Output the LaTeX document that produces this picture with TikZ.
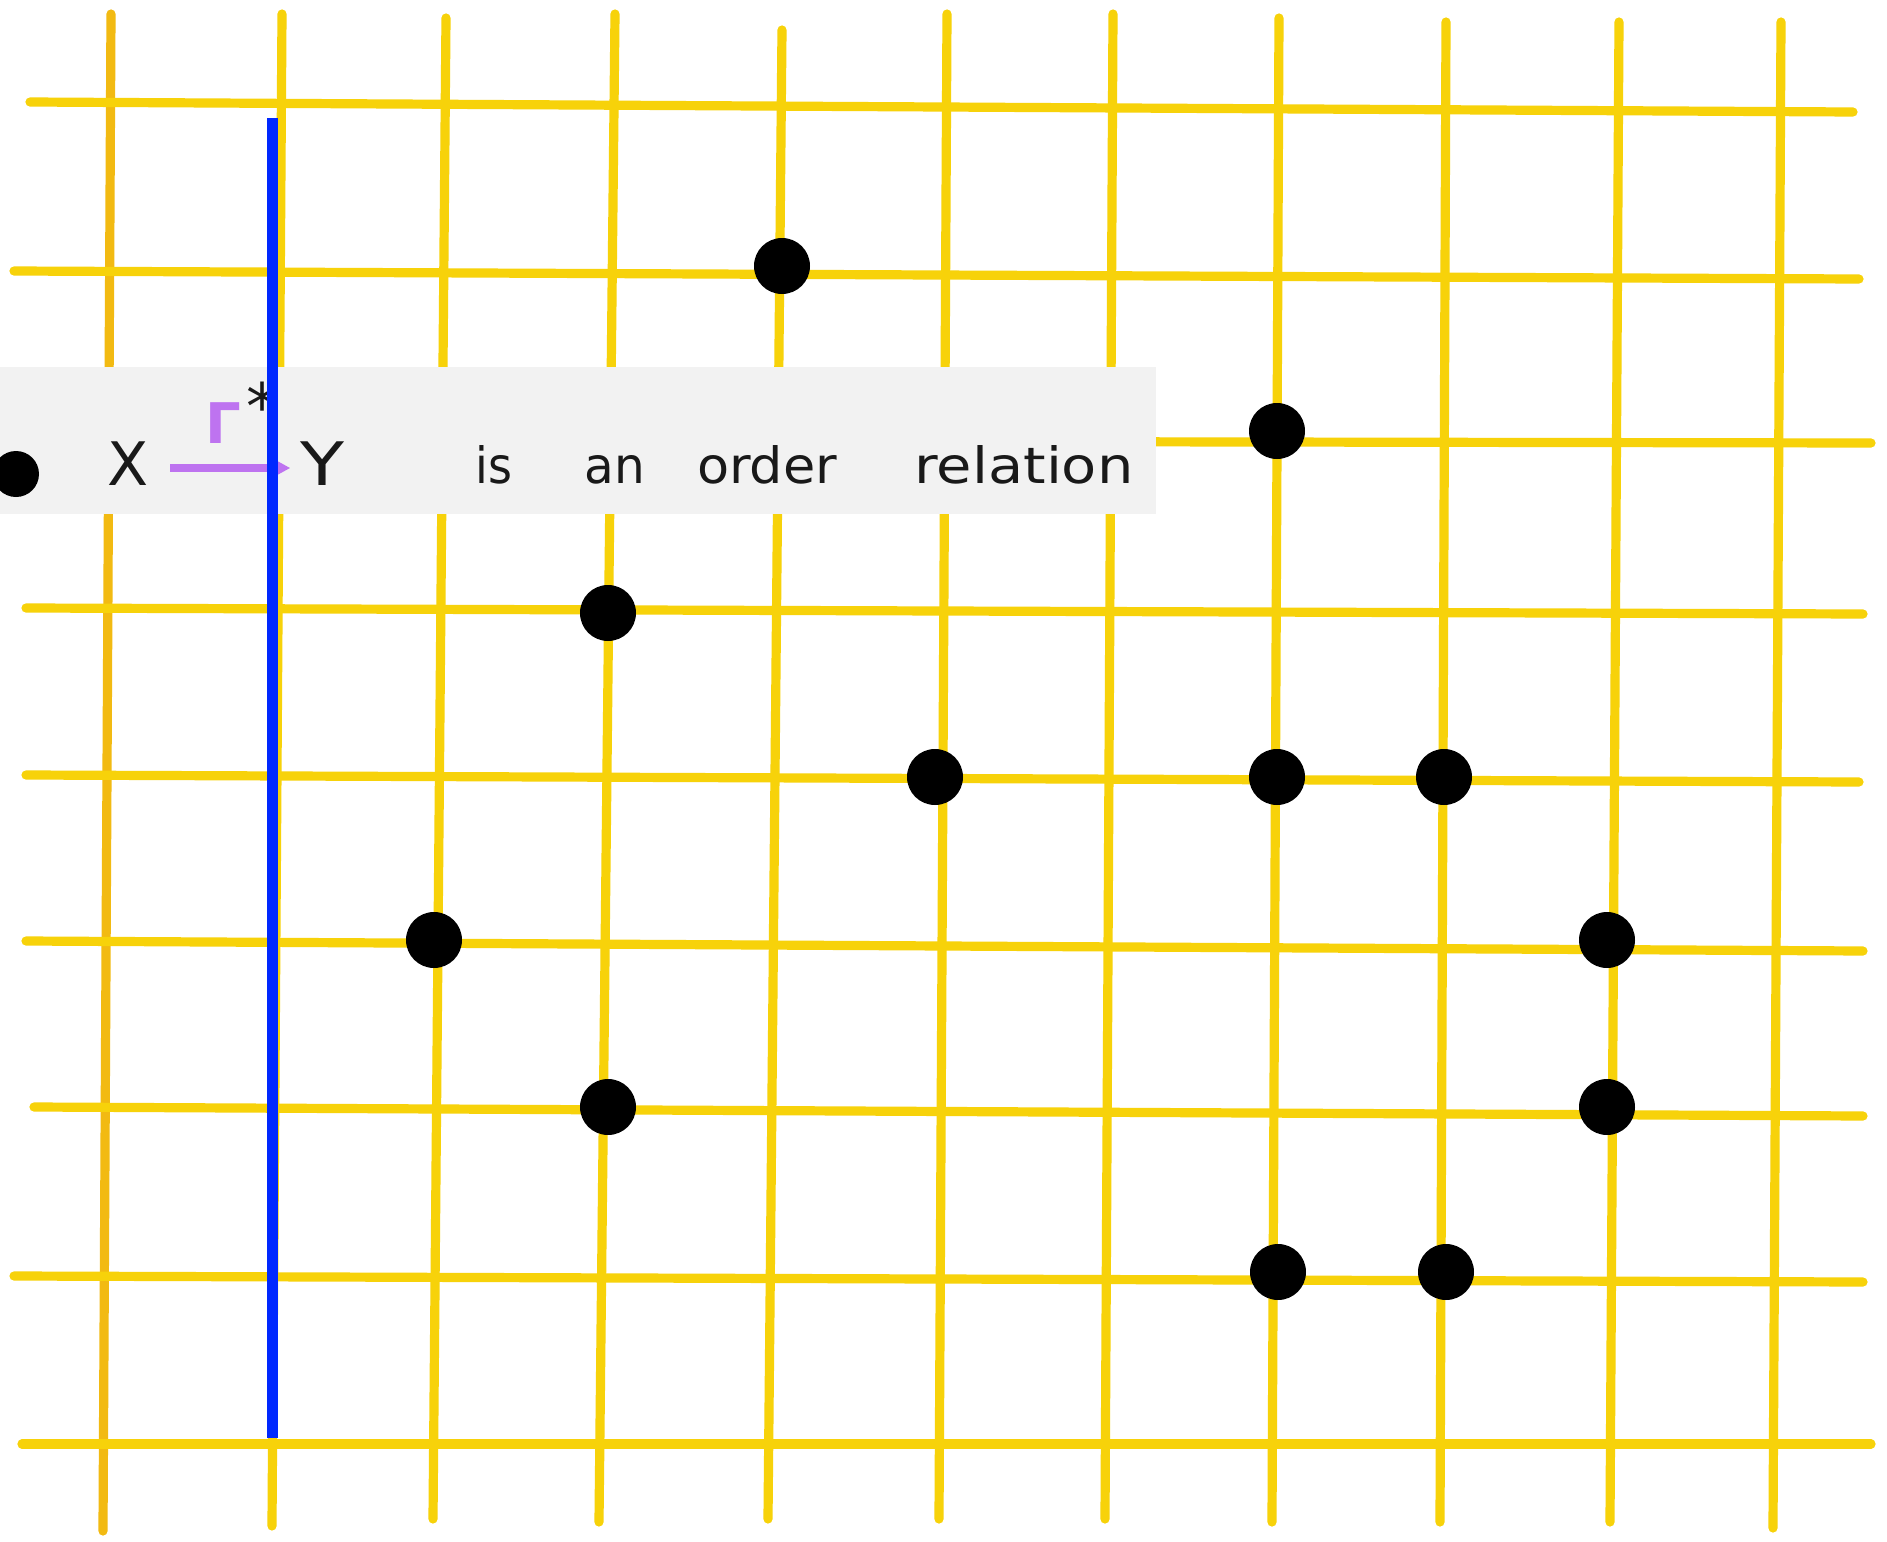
\documentclass[tikz,border=0pt]{standalone}
\usepackage{fontspec}
\usepackage{graphicx}
\newfontfamily\handfont{DejaVu Sans}
\usetikzlibrary{arrows.meta}
\definecolor{gridyel}{RGB}{247,210,10}
\definecolor{gridorg}{RGB}{242,186,18}
\definecolor{bandgray}{RGB}{242,242,242}
\definecolor{rayblue}{RGB}{0,40,255}
\definecolor{violetink}{RGB}{190,115,240}
\definecolor{inkblack}{RGB}{25,25,25}
\begin{document}
\begin{tikzpicture}[x=0.5pt,y=-0.5pt,
  gridline/.style={draw=gridyel,line width=4.6pt,line cap=round},
  gridlineorg/.style={draw=gridorg,line width=4.6pt,line cap=round},
  dot/.style={circle,fill=black,inner sep=0pt,minimum size=28pt},
  word/.style={font=\handfont\fontsize{25}{28}\selectfont,text=inkblack,inner sep=0pt,anchor=base},
  letter/.style={font=\handfont\fontsize{30}{32}\selectfont,text=inkblack,inner sep=0pt},
]
\useasboundingbox (0,0) rectangle (1887,1542);
\fill[white] (0,0) rectangle (1887,1542);

% vertical grid lines
\draw[gridlineorg] (111,14) -- (103,1531);
\draw[gridline] (282,14) -- (272,1526);
\draw[gridline] (446,18) -- (433,1519);
\draw[gridline] (615,14) -- (599,1522);
\draw[gridline] (782,30) -- (768,1519);
\draw[gridline] (947,14) -- (939,1519);
\draw[gridline] (1113,14) -- (1105,1519);
\draw[gridline] (1279,18) -- (1272,1522);
\draw[gridline] (1446,22) -- (1440,1522);
\draw[gridline] (1619,22) -- (1610,1522);
\draw[gridline] (1781,22) -- (1773,1528);

% horizontal grid lines
\draw[gridline] (30,102) -- (1853,112);
\draw[gridline] (14,271) -- (1859,279);
\draw[gridline] (20,440) -- (1871,443);
\draw[gridline] (26,608) -- (1863,614);
\draw[gridline] (26,775) -- (1859,782);
\draw[gridline] (26,941) -- (1863,951);
\draw[gridline] (34,1107) -- (1863,1116);
\draw[gridline] (14,1276) -- (1863,1282);
\draw[gridline] (22,1444) -- (1871,1444);

% text band
\fill[bandgray] (0,367) rectangle (1156,514);

\node[circle,fill=black,inner sep=0pt,minimum size=23pt] (bullet) at (16,474) {};
\node[letter] (X) at (128,464) {X};
\node[letter] (Y) at (322,464) {\scalebox{1.2}[1]{Y}};
\coordinate (arrS) at (170,468);
\coordinate (arrE) at (290,468);
\draw[violetink,line width=3.8pt,-{Stealth[length=11pt,width=12pt]}] (arrS) -- (arrE);
\node[font=\handfont\bfseries\fontsize{28}{30}\selectfont,text=violetink,inner sep=0pt] (gam) at (223,423) {Γ};
\node[font=\handfont\fontsize{32}{34}\selectfont,text=inkblack,inner sep=0pt] (star) at (262,406) {*};

\node[word] (w1) at (494,483) {\scalebox{0.92}[1]{is}};
\node[word] (w2) at (615,483) {\scalebox{0.97}[1]{an}};
\node[word] (w3) at (767,483) {\scalebox{1.05}[1]{order}};
\node[word] (w4) at (1024,483) {\scalebox{1.15}[1]{relation}};

% dots
\node[dot] (d1) at (782,266) {};
\node[dot] (d2) at (1277,431) {};
\node[dot] (d3) at (608,613) {};
\node[dot] (d4) at (935,777) {};
\node[dot] (d5) at (1277,777) {};
\node[dot] (d6) at (1444,777) {};
\node[dot] (d7) at (434,940) {};
\node[dot] (d8) at (1607,940) {};
\node[dot] (d9) at (608,1107) {};
\node[dot] (d10) at (1607,1107) {};
\node[dot] (d11) at (1278,1272) {};
\node[dot] (d12) at (1446,1272) {};

% blue line
\coordinate (bT) at (272,118);
\coordinate (bB) at (272,1438);
\draw[rayblue,line width=5.5pt] (bT) -- (bB);
\end{tikzpicture}
\end{document}
